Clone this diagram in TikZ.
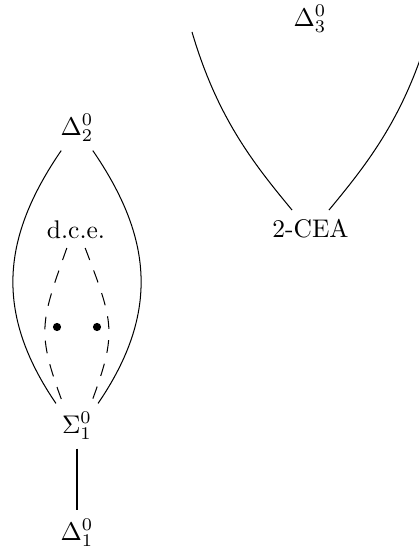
\documentclass[tikz,border=0pt]{standalone}
\begin{document}
\begin{tikzpicture}[x=0.392pt,y=-0.392pt,
  lbl/.style={inner sep=.3333em},
  dashline/.style={dash pattern=on 5pt off 4.4pt},
  dotmark/.style={fill=black}]
  \clip (0,0) rectangle (419,550);

  % labels
  \node[lbl] (d3)  at (310,19)    {$\Delta^0_3$};
  \node[lbl] (cea) at (310.5,228.5) {2-CEA};
  \node[lbl] (d2)  at (77,128)    {$\Delta^0_2$};
  \node[lbl] (dce) at (76,230)    {d.c.e.};
  \node[lbl] (s1)  at (77,426)    {$\Sigma^0_1$};
  \node[lbl] (d1)  at (77,533)    {$\Delta^0_1$};

  % open ends of the upper branch
  \coordinate (ul) at (192,32);
  \coordinate (ur) at (429,32);

  % upper branch into 2-CEA
  \draw (ul) .. controls (217,117) and (253,163) .. (cea.135);
  \draw (ur) .. controls (404,117) and (368,163) .. (cea.45);

  % solid arcs between Sigma and Delta_2
  \draw (d2.235) .. controls (2.2,236.7) and (-6.5,311.9) .. (s1.133);
  \draw (d2.305) .. controls (151.8,236.7) and (160.5,311.9) .. (s1.47);

  % dashed arcs between Sigma and d.c.e.
  \draw[dashline] (dce.243) .. controls (40.4,322.8) and (36.3,331.9) .. (s1.122);
  \draw[dashline] (dce.297) .. controls (113.6,322.8) and (117.7,331.9) .. (s1.58);

  % dots
  \fill[dotmark] (57,327) circle[radius=1.6pt];
  \fill[dotmark] (97,327) circle[radius=1.6pt];

  % bottom link
  \draw (s1) -- (d1);
\end{tikzpicture}
\end{document}
